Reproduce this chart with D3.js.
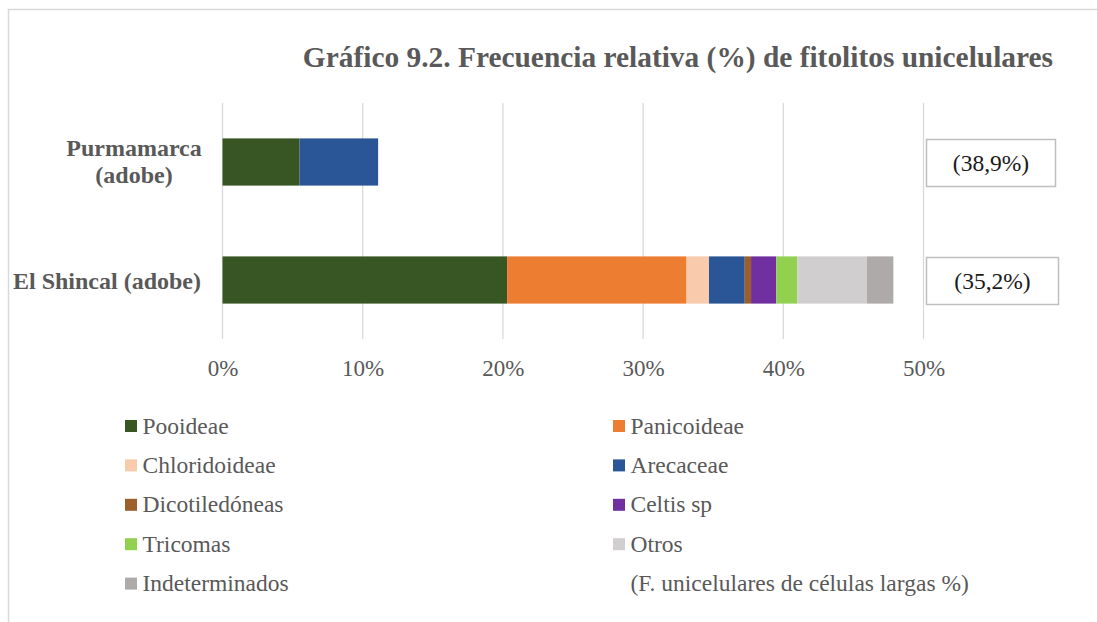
<!DOCTYPE html>
<html>
<head>
<meta charset="utf-8">
<script src="https://cdn.jsdelivr.net/npm/d3@7"></script>
<style>
  html, body { margin: 0; padding: 0; background: #fff; }
  svg { display: block; font-family: "Liberation Serif", "Times New Roman", serif; }
</style>
</head>
<body>
<svg id="chart" width="1097" height="622"></svg>
<script>
// Sites (categories on the vertical axis)
const sites = ["Purmamarca (adobe)", "El Shincal (adobe)"];

// Relative frequency (%) per phytolith group, one value per site
const pooideae       = [5.5, 20.3];
const panicoideae    = [0, 12.8];
const chloridoideae  = [0, 1.6];
const arecaceae      = [5.6, 2.55];
const dicotiledoneas = [0, 0.45];
const celtis         = [0, 1.8];
const tricomas       = [0, 1.5];
const otros          = [0, 4.95];
const indeterminados = [0, 1.9];

// Long-cell unicellular phytoliths (%) per site
const longCellPct = [38.9, 35.2];

const seriesNames = ["Pooideae", "Panicoideae", "Chloridoideae", "Arecaceae",
  "Dicotiledóneas", "Celtis sp", "Tricomas", "Otros", "Indeterminados"];
const seriesValues = [pooideae, panicoideae, chloridoideae, arecaceae,
  dicotiledoneas, celtis, tricomas, otros, indeterminados];
const seriesColors = ["#375623", "#ED7D31", "#F8CBAD", "#2A5597",
  "#9C5F2B", "#7030A0", "#92D050", "#D0CECE", "#AEAAAA"];

const xTicks = [0, 10, 20, 30, 40, 50];
const longCellLabel = "(F. unicelulares de células largas %)";
const title = "Gráfico 9.2. Frecuencia relativa (%) de fitolitos unicelulares";

const textGray = "#595959";
const svg = d3.select("#chart");

// outer frame
svg.append("path")
  .attr("d", "M8.5,640 L8.5,9.5 L1110,9.5")
  .attr("fill", "none").attr("stroke", "#d9d9d9").attr("stroke-width", 1.5);

// title
svg.append("text")
  .attr("x", 1053).attr("y", 67)
  .attr("text-anchor", "end")
  .attr("font-size", 29.4).attr("font-weight", "bold")
  .attr("fill", textGray)
  .text(title);

const x = d3.scaleLinear().domain([0, 50]).range([222.5, 923.5]);
const y = d3.scaleBand().domain(sites).range([103, 339])
  .paddingInner(0.6).paddingOuter(0.3);

// gridlines
svg.append("g").selectAll("line").data(xTicks).join("line")
  .attr("x1", d => x(d)).attr("x2", d => x(d))
  .attr("y1", 103).attr("y2", 339)
  .attr("stroke", "#d9d9d9").attr("stroke-width", 1.3);

// x axis tick labels
const xAxis = d3.axisBottom(x).tickValues(xTicks).tickSize(0).tickPadding(0)
  .tickFormat(d => d + "%");
const gx = svg.append("g").attr("transform", "translate(0,360)").call(xAxis);
gx.select(".domain").remove();
gx.selectAll("text")
  .attr("font-family", "'Liberation Serif', 'Times New Roman', serif")
  .attr("font-size", 23).attr("fill", textGray).attr("dy", "0.71em");

// stacked bars
const rows = sites.map((s, i) => {
  const r = { site: s };
  seriesNames.forEach((n, k) => { r[n] = seriesValues[k][i]; });
  return r;
});
const stacked = d3.stack().keys(seriesNames)(rows);
const color = d3.scaleOrdinal().domain(seriesNames).range(seriesColors);

svg.append("g").selectAll("g").data(stacked).join("g")
  .attr("fill", d => color(d.key))
  .selectAll("rect").data(d => d.filter(p => p[1] - p[0] > 0)).join("rect")
  .attr("x", d => x(d[0]))
  .attr("width", d => x(d[1]) - x(d[0]))
  .attr("y", d => y(d.data.site))
  .attr("height", y.bandwidth());

// category labels
const catG = svg.append("g").attr("font-size", 24).attr("font-weight", "bold").attr("fill", textGray);
const mid = s => y(s) + y.bandwidth() / 2;
catG.append("text").attr("x", 134).attr("y", mid(sites[0]) - 6)
  .attr("text-anchor", "middle").text("Purmamarca");
catG.append("text").attr("x", 134).attr("y", mid(sites[0]) + 21)
  .attr("text-anchor", "middle").text("(adobe)");
catG.append("text").attr("x", 201).attr("y", mid(sites[1]) + 8.5)
  .attr("text-anchor", "end").text(sites[1]);

// long-cell percentage boxes
const fmt = v => "(" + d3.format(".1f")(v).replace(".", ",") + "%)";
const boxW = [129, 132];
const boxG = svg.append("g");
sites.forEach((s, i) => {
  const cy = mid(s) + 1;
  boxG.append("rect")
    .attr("x", 926.5).attr("y", cy - 23.5)
    .attr("width", boxW[i]).attr("height", 47)
    .attr("fill", "#fff").attr("stroke", "#bfbfbf").attr("stroke-width", 1.5);
  boxG.append("text")
    .attr("x", 926.5 + boxW[i] / 2).attr("y", cy + 8)
    .attr("text-anchor", "middle")
    .attr("font-size", 23.5).attr("fill", "#1a1a1a")
    .text(fmt(longCellPct[i]));
});

// legend: two columns, filled row by row
const legendItems = seriesNames.map((n, k) => ({ name: n, color: seriesColors[k] }))
  .concat([{ name: longCellLabel, color: null }]);
const colX = [125, 613];
const rowY0 = 426, rowStep = 39.4;
const lg = svg.append("g").selectAll("g").data(legendItems).join("g")
  .attr("transform", (d, i) => `translate(${colX[i % 2]},${rowY0 + Math.floor(i / 2) * rowStep})`);
lg.filter(d => d.color).append("rect")
  .attr("x", 0).attr("y", -6).attr("width", 12).attr("height", 12)
  .attr("fill", d => d.color);
lg.append("text")
  .attr("x", 17.5).attr("y", 7.5)
  .attr("font-size", 23.5).attr("fill", textGray)
  .text(d => d.name);
</script>
</body>
</html>
